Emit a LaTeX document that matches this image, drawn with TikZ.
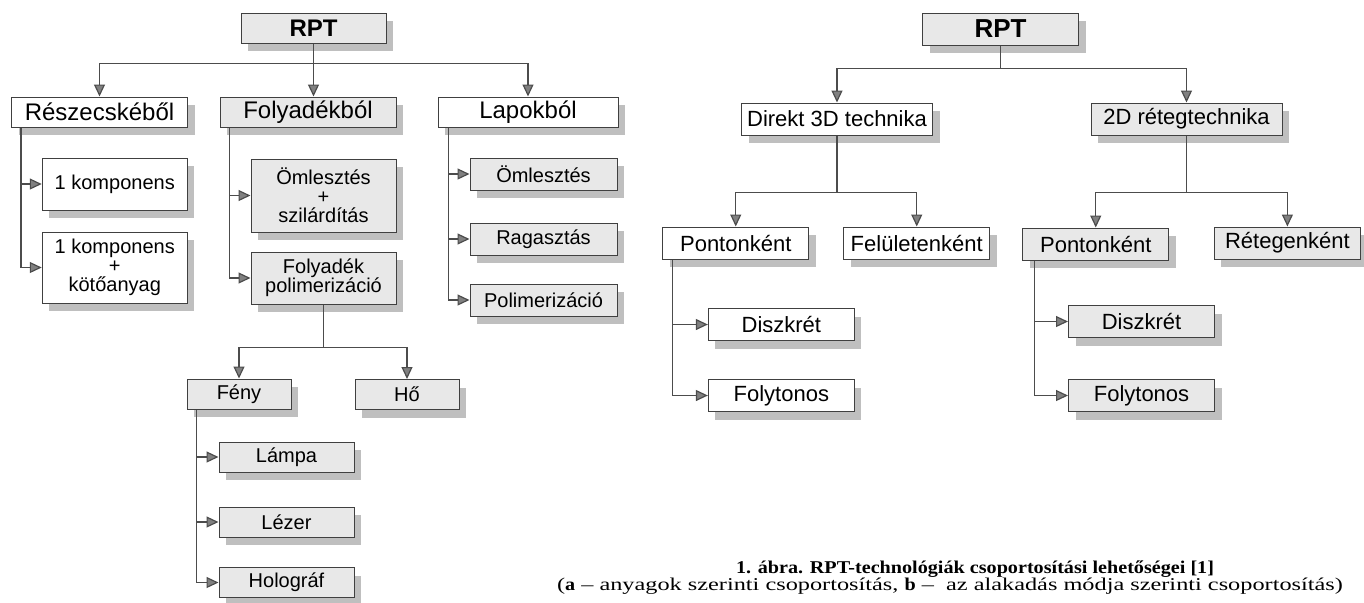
\documentclass[tikz,border=0pt]{standalone}
\usepackage{fontspec}
\setmainfont{Liberation Sans}
\newfontfamily\capfont{Liberation Serif}[FakeStretch=1.35, BoldFeatures={FakeStretch=1.12}]
\usetikzlibrary{arrows.meta}
\usetikzlibrary{shadows}

\begin{document}
\begin{tikzpicture}[x=0.5pt,y=-0.5pt]
      \tikzstyle{box}  = [draw=black!75, line width=0.5pt, fill=white, inner sep=0pt, align=center,
        drop shadow={shadow xshift=3.5pt, shadow yshift=-4pt, fill=black!25, opacity=1}]
      \tikzstyle{gbox} = [box, fill=black!9]
      \tikzstyle{edge}  = [draw=black!70, line width=0.6pt]
      \tikzstyle{dedge} = [edge, -{Triangle[length=6pt,width=5.5pt,fill=black!50]}]
      \tikzstyle{top}   = [font=\bfseries\fontsize{12}{12}\selectfont, minimum height=15pt]
      \tikzstyle{lvl}   = [font=\fontsize{12}{12}\selectfont, minimum width=88pt, minimum height=15pt]
      \tikzstyle{small} = [font=\fontsize{10}{9.6}\selectfont, minimum width=72.5pt, minimum height=15pt]
      \tikzstyle{right} = [font=\fontsize{11}{11}\selectfont, minimum width=73pt, minimum height=16pt]

      \useasboundingbox (0,0) rectangle (1364,602);

      \node[gbox,top,minimum width=72.5pt] (rptA) at (313.5,28) {RPT};
      \node[box,lvl] (reszecske) at (99.5,112) {Részecskéből};
      \node[gbox,lvl] (folyadek) at (308,112) {Folyadékból};
      \node[box,lvl,minimum width=90pt] (lapok) at (528,112) {Lapokból};

      \node[box,small,minimum height=26pt] (komp1) at (114.75,184) {1 komponens};
      \node[box,small,minimum height=35.5pt] (komp2) at (114.75,267.5) {1 komponens\\+\\kötőanyag};
      \node[gbox,small,minimum height=36.5pt] (omleszt) at (323.5,195.5) {Ömlesztés\\+\\szilárdítás};
      \node[gbox,small,minimum height=26pt] (fpolim) at (323.5,278) {Folyadék\\polimerizáció};
      \node[gbox,small,minimum width=73.5pt,minimum height=16pt] (lomleszt) at (543.5,174) {Ömlesztés};
      \node[gbox,small,minimum width=73.5pt,minimum height=16pt] (ragaszt) at (543.5,239) {Ragasztás};
      \node[gbox,small,minimum width=73.5pt,minimum height=16pt] (lpolim) at (543.5,300) {Polimerizáció};

      \node[gbox,small,minimum width=52pt] (feny) at (239,394) {Fény};
      \node[gbox,small,minimum width=52pt] (ho) at (407,394.5) {Hő};
      \node[gbox,small,minimum width=67.5pt] (lampa) at (286.5,457) {Lámpa};
      \node[gbox,small,minimum width=67.5pt] (lezer) at (286.5,522) {Lézer};
      \node[gbox,small,minimum width=67.5pt] (holograf) at (286.5,582.5) {Holográf};

      \node[gbox,top,font=\bfseries\fontsize{13}{13}\selectfont,minimum width=78pt,minimum height=16pt] (rptB) at (1000.5,29) {RPT};
      \node[box,right,minimum width=95.5pt] (direkt) at (837,119) {Direkt 3D technika};
      \node[gbox,right,minimum width=95.5pt] (ketd) at (1186.5,119) {2D rétegtechnika};
      \node[box,right] (pont1) at (735.75,243) {Pontonként};
      \node[box,right] (felulet) at (916.75,243) {Felületenként};
      \node[gbox,right] (pont2) at (1095.75,244) {Pontonként};
      \node[gbox,right] (reteg) at (1287.4,243) {Rétegenként};
      \node[box,right] (disz1) at (781.35,324.5) {Diszkrét};
      \node[box,right] (foly1) at (781.35,395.5) {Folytonos};
      \node[gbox,right] (disz2) at (1141.5,321.5) {Diszkrét};
      \node[gbox,right] (foly2) at (1141.5,395.5) {Folytonos};

      \node[font=\capfont\bfseries\fontsize{9}{9}\selectfont,anchor=base] (cap1) at (975,573) {1. ábra. RPT-technológiák csoportosítási lehetőségei [1]};
      \node[font=\capfont\fontsize{9}{9}\selectfont,anchor=base] (cap2) at (950,590) {(\textbf{a} – anyagok szerinti csoportosítás, \textbf{b} – \ az alakadás módja szerinti csoportosítás)};

      \draw[edge] (rptA.south) -- ++(0,20) coordinate (busA);
      \draw[dedge] (busA) -| (reszecske);
      \draw[dedge] (busA) -- (busA |- folyadek.north);
      \draw[dedge] (busA) -| (lapok);

      \draw[dedge] ([xshift=5pt]reszecske.south west) |- (komp1);
      \draw[dedge] ([xshift=5pt]reszecske.south west) |- (komp2);
      \draw[dedge] ([xshift=5pt]folyadek.south west) |- (omleszt);
      \draw[dedge] ([xshift=5pt]folyadek.south west) |- (fpolim);
      \draw[dedge] ([xshift=5.5pt]lapok.south west) |- (lomleszt);
      \draw[dedge] ([xshift=5.5pt]lapok.south west) |- (ragaszt);
      \draw[dedge] ([xshift=5.5pt]lapok.south west) |- (lpolim);

      \draw[edge] (fpolim.south) -- ++(0,43) coordinate (busC);
      \draw[dedge] (busC) -| (feny);
      \draw[dedge] (busC) -| (ho);
      \draw[dedge] ([xshift=5pt]feny.south west) |- (lampa);
      \draw[dedge] ([xshift=5pt]feny.south west) |- (lezer);
      \draw[dedge] ([xshift=5pt]feny.south west) |- (holograf);

      \draw[edge] (rptB.south) -- ++(0,23) coordinate (busB);
      \draw[dedge] (busB) -| (direkt);
      \draw[dedge] (busB) -| (ketd);
      \draw[edge] (direkt.south) -- ++(0,57) coordinate (busD);
      \draw[dedge] (busD) -| (pont1);
      \draw[dedge] (busD) -| (felulet);
      \draw[edge] (ketd.south) -- ++(0,57) coordinate (busE);
      \draw[dedge] (busE) -| (pont2);
      \draw[dedge] (busE) -| (reteg);
      \draw[dedge] ([xshift=5pt]pont1.south west) |- (disz1);
      \draw[dedge] ([xshift=5pt]pont1.south west) |- (foly1);
      \draw[dedge] ([xshift=6pt]pont2.south west) |- (disz2);
      \draw[dedge] ([xshift=6pt]pont2.south west) |- (foly2);
    \end{tikzpicture}
\end{document}
